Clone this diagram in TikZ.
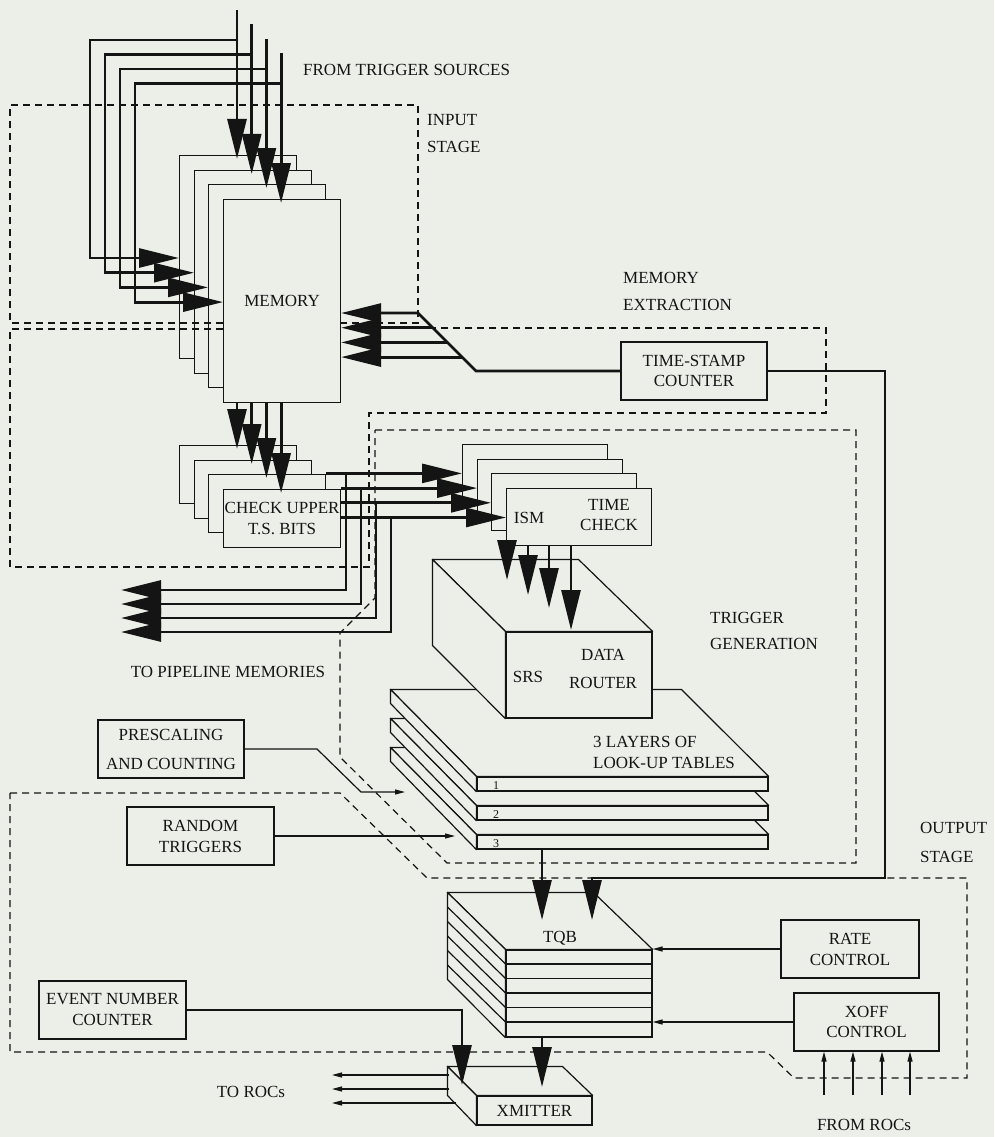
\documentclass[tikz,border=0pt]{standalone}
\usepackage{fontspec}
\setmainfont{Liberation Serif}
\usetikzlibrary{arrows.meta,calc}
\definecolor{bg}{RGB}{236,239,232}
\definecolor{ink}{RGB}{20,20,20}
\begin{document}
\begin{tikzpicture}[x=1pt,y=-1pt,
  every node/.style={font=\fontsize{17}{21}\selectfont, inner sep=0pt, text=ink},
  box/.style={draw=ink, fill=bg, line width=1.2pt, align=center},
  face/.style={draw=ink, fill=bg, line width=1.2pt, line join=round},
  ln/.style={draw=ink, line width=1.2pt},
  bus/.style={draw=ink, line width=2.8pt},
  bigtip/.style={-{Triangle[length=40pt,width=19pt]}},
  smalltip/.style={-{Triangle[length=10pt,width=5pt]}},
  region/.style={draw=ink, line width=1.2pt, dash pattern=on 7pt off 5pt},
  lbl/.style={align=left, anchor=west},
]
\path[use as bounding box, fill=bg] (0,0) rectangle (994,1137);

% ---------- memory stack ----------
\node[box, anchor=north west, minimum width=117pt, minimum height=203pt] (mem0) at (179,155) {};
\node[box, anchor=north west, minimum width=117pt, minimum height=203pt] (mem1) at (194,170) {};
\node[box, anchor=north west, minimum width=117pt, minimum height=203pt] (mem2) at (208,184) {};
\node[box, anchor=north west, minimum width=117pt, minimum height=203pt] (mem3) at (223,199) {MEMORY};

% ---------- check upper stack ----------
\node[box, anchor=north west, minimum width=117pt, minimum height=58pt] (chk0) at (179,445) {};
\node[box, anchor=north west, minimum width=117pt, minimum height=58pt] (chk1) at (194,460) {};
\node[box, anchor=north west, minimum width=117pt, minimum height=58pt] (chk2) at (208,474) {};
\node[box, anchor=north west, minimum width=117pt, minimum height=58pt] (chk3) at (223,489) {CHECK UPPER\\T.S. BITS};

% ---------- ISM stack ----------
\node[box, anchor=north west, minimum width=145pt, minimum height=57pt] (ism0) at (462,444) {};
\node[box, anchor=north west, minimum width=145pt, minimum height=57pt] (ism1) at (477,459) {};
\node[box, anchor=north west, minimum width=145pt, minimum height=57pt] (ism2) at (491,473) {};
\node[box, anchor=north west, minimum width=145pt, minimum height=57pt] (ism3) at (506,488) {};
\node (lism) at (529,518) {ISM};
\node[align=center] (ltc) at (609,515) {TIME\\[-1pt]CHECK};

% ---------- time-stamp counter ----------
\node[box, minimum width=146pt, minimum height=58pt] (ts) at (694,371) {TIME-STAMP\\[-1pt]COUNTER};

% ---------- look-up table slabs ----------
\foreach \j in {2,1,0}{
  \pgfmathsetmacro\yc{784+29*\j}
  \node[box, minimum width=291pt, minimum height=14pt] (lut\j) at (622.5,\yc) {};
  \draw[face] (lut\j.north west) -- ++(-86,-87) -- ++(291,0) -- (lut\j.north east) -- cycle;
  \draw[face] (lut\j.north west) -- ++(-86,-87) -- ++(0,14) -- (lut\j.south west) -- cycle;
}
\node[font=\fontsize{12}{12}\selectfont] (n1) at (496,786) {1};
\node[font=\fontsize{12}{12}\selectfont] (n2) at (496,815) {2};
\node[font=\fontsize{12}{12}\selectfont] (n3) at (496,844) {3};

% ---------- SRS / data router ----------
\node[box, minimum width=146pt, minimum height=86pt] (srs) at (579,675) {};
\draw[face] (srs.north west) -- ++(-73,-72) -- ++(146,0) -- (srs.north east) -- cycle;
\draw[face] (srs.north west) -- ++(-73,-72) -- ++(0,86) -- (srs.south west) -- cycle;
\node (lsrs) at (528,677) {SRS};
\node[align=center] (ldr) at (603,669) {DATA\\[7pt]ROUTER};

% ---------- TQB ----------
\node[box, minimum width=146pt, minimum height=87pt] (tqb) at (579,993.5) {};
\draw[face] (tqb.north west) -- ++(-58,-57) -- ++(146,0) -- (tqb.north east) -- cycle;
\draw[face] (tqb.north west) -- ++(-58,-57) -- ++(0,87) -- (tqb.south west) -- cycle;
\foreach \i in {1,...,5}{
  \draw[ln] ($(tqb.north west)+(0,14.5*\i)$) -- ++(146,0);
  \draw[ln] ($(tqb.north west)+(0,14.5*\i)$) -- ++(-58,-57);
}
\node (ltqb) at (560,938) {TQB};

% ---------- XMITTER ----------
\node[box, minimum width=115pt, minimum height=29pt] (xmit) at (534.5,1110.5) {XMITTER};
\draw[face] (xmit.north west) -- ++(-29,-29) -- ++(115,0) -- (xmit.north east) -- cycle;
\draw[face] (xmit.north west) -- ++(-29,-29) -- ++(0,29) -- (xmit.south west) -- cycle;

% ---------- other boxes ----------
\node[box, minimum width=146pt, minimum height=58pt] (pre) at (171,749) {PRESCALING\\[8pt]AND COUNTING};
\node[box, minimum width=147pt, minimum height=58pt] (rnd) at (200.5,836) {RANDOM\\TRIGGERS};
\node[box, minimum width=138pt, minimum height=58pt] (rate) at (850,949) {RATE\\CONTROL};
\node[box, minimum width=145pt, minimum height=58pt] (xoff) at (866.5,1022) {XOFF\\[-1pt]CONTROL};
\node[box, minimum width=147pt, minimum height=58pt] (evt) at (112.5,1010) {EVENT NUMBER\\COUNTER};

% ---------- dashed regions ----------
\draw[region] (223,323) -- (10,323) -- (10,105) -- (418,105) -- (418,323) -- (340,323);
\draw[region] (223,329) -- (10,329) -- (10,567) -- (369,567) -- (369,413) -- (826,413) -- (826,328) -- (433,328);
\draw[region] (375,430) -- (856,430) -- (856,863) -- (447,863) -- (340,757) -- (340,633) -- (375,598) -- cycle;
\draw[region] (10,793) -- (340,793) -- (427,878) -- (967,878) -- (967,1078) -- (794,1078) -- (767,1052) -- (10,1052) -- cycle;

% ---------- labels ----------
\node[lbl] (lfrom) at (303,70) {FROM TRIGGER SOURCES};
\node[lbl] (linput) at (427,133.5) {INPUT\\[6pt]STAGE};
\node[lbl] (lmemx) at (623,291.5) {MEMORY\\[6pt]EXTRACTION};
\node[lbl] (ltrig) at (710,631) {TRIGGER\\[5pt]GENERATION};
\node[lbl] (llut) at (593,752.5) {3 LAYERS OF\\LOOK-UP TABLES};
\node[lbl] (lout) at (920,842.5) {OUTPUT\\[8pt]STAGE};
\node (lpipe) at (228,672) {TO PIPELINE MEMORIES};
\node (ltoroc) at (251,1092) {TO ROCs};
\node (lfromroc) at (864,1125) {FROM ROCs};

% ---------- trigger source inputs into memory ----------
\foreach \k in {0,1,2,3}{
  \pgfmathsetmacro\xx{237+14.7*\k}
  \pgfmathsetmacro\yt{10+14.5*\k}
  \pgfmathsetmacro\yh{40+14.5*\k}
  \pgfmathsetmacro\xl{90+15*\k}
  \pgfmathsetmacro\ya{258+14.7*\k}
  \coordinate (src\k) at (\xx,\yt);
  \draw[bus,bigtip,shorten >=-4pt] (src\k) -- (src\k |- mem\k.north);
  \draw[bus,bigtip] (\xx,\yh) -| (\xl,\ya) -- (mem\k.west |- 0,\ya);
  % memory -> check upper
  \draw[bus,bigtip,shorten >=-4pt] (src\k |- mem3.south) -- (src\k |- chk\k.north);
}

% ---------- time-stamp counter -> memory, TQB ----------
\draw[bus,bigtip] (ts.west) -- (476,371) -- (418,313) -- (mem3.east |- 0,313);
\foreach \j in {1,2,3}{
  \pgfmathsetmacro\yy{313+14.7*\j}
  \pgfmathsetmacro\xd{418+14.7*\j}
  \draw[bus,bigtip] (\xd,\yy) -- (mem3.east |- 0,\yy);
}
\coordinate (tqbin) at (592,920);
\draw[bus,bigtip] (ts.east) -- (885,371) -- (885,878) -- (592,878) -- (tqbin);

% ---------- check upper -> ISM and pipeline memories ----------
\foreach \k in {0,1,2,3}{
  \pgfmathsetmacro\yy{473.4+14.7*\k}
  \pgfmathsetmacro\xb{346+15*\k}
  \pgfmathsetmacro\yp{590+14*\k}
  \coordinate (pipe\k) at (121,\yp);
  \ifnum\k=0
    \draw[bus,bigtip] (chk2.east |- 0,\yy) -- (ism\k.west |- 0,\yy);
  \else
    \draw[bus,bigtip] (chk3.east |- 0,\yy) -- (ism\k.west |- 0,\yy);
  \fi
  \draw[bus,bigtip] (\xb,\yy) |- (pipe\k);
}

% ---------- ISM -> SRS ----------
\coordinate (s0) at (507,580);
\coordinate (s1) at (528,595);
\coordinate (s2) at (549,608);
\coordinate (s3) at (571,630);
\foreach \k in {0,1,2,3}{
  \draw[bus,bigtip] (s\k |- ism3.south) -- (s\k);
}

% ---------- LUT -> TQB -> XMITTER ----------
\coordinate (tqbin2) at (542,920);
\draw[bus,bigtip] (tqbin2 |- lut2.south) -- (tqbin2);
\coordinate (xin) at (542,1087);
\draw[bus,bigtip] (xin |- tqb.south) -- (xin);
\coordinate (xin2) at (462,1085);
\draw[bus,bigtip] (evt.east) -| (xin2);

% ---------- thin connectors ----------
\draw[ln,smalltip] (rate.west) -- (rate.west -| tqb.east);
\draw[ln,smalltip] (xoff.west) -- (xoff.west -| tqb.east);
\foreach \x in {824,853,882,910}{
  \coordinate (roc\x) at (\x,1095);
  \draw[ln,smalltip] (roc\x) -- (roc\x |- xoff.south);
}
\coordinate (to1) at (332,1075);
\coordinate (to2) at (332,1089);
\coordinate (to3) at (332,1103);
\draw[ln,smalltip] (449,1075) -- (to1);
\draw[ln,smalltip] (449,1089) -- (to2);
\draw[ln,smalltip] (456,1103) -- (to3);
\coordinate (prein) at (405,792);
\draw[ln,smalltip] (pre.east) -- (317,749) -- (361,792) -- (prein);
\coordinate (rndin) at (455,836);
\draw[ln,smalltip] (rnd.east) -- (rndin);
\end{tikzpicture}
\end{document}
